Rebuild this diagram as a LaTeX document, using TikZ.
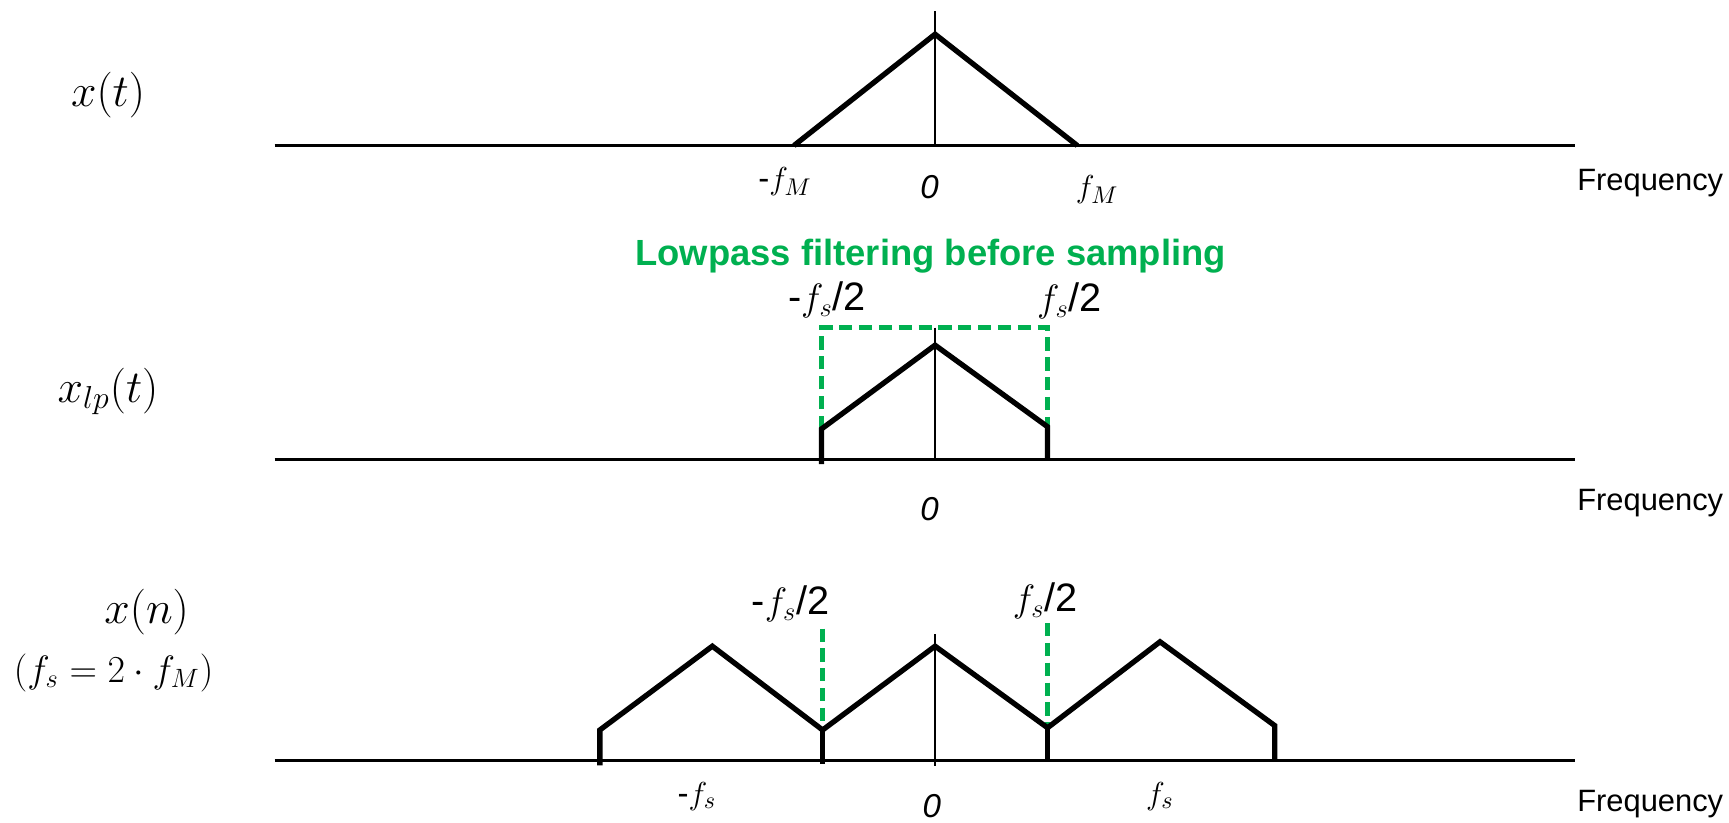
\documentclass[tikz,border=0pt]{standalone}
\usepackage{fontspec}
\setmainfont{Liberation Sans}
\definecolor{lpgreen}{RGB}{0,176,80}
\begin{document}
\begin{tikzpicture}[x=0.5pt,y=-0.5pt,
  axisline/.style={line width=1.3pt},
  zeroline/.style={line width=0.9pt},
  spec/.style={line width=2.4pt,line join=miter},
  filt/.style={lpgreen,line width=2pt,dash pattern=on 6pt off 3pt},
  freq/.style={anchor=west,font=\fontsize{14}{16}\selectfont,inner sep=0pt},
  tick/.style={font=\fontsize{15}{17}\selectfont,inner sep=0pt},
  bigtick/.style={font=\fontsize{18}{20}\selectfont,inner sep=0pt},
  sig/.style={font=\fontsize{20}{24}\selectfont,inner sep=0pt}]
\useasboundingbox (0,0) rectangle (1568,746);

% ---------- top panel ----------
\coordinate (a1l) at (249,132); \coordinate (a1r) at (1428,132);
\coordinate (z1t) at (848,10);  \coordinate (z1b) at (848,132);
\coordinate (t1l) at (720,132); \coordinate (t1p) at (848,31); \coordinate (t1r) at (977,132);
\draw[axisline] (a1l) -- (a1r);
\draw[zeroline] (z1t) -- (z1b);
\draw[spec] (t1l) -- (t1p) -- (t1r);
\node[sig] (xt) at (98,86) {$x(t)$};
\node[tick] (fm1) at (712,165) {-$f_M$};
\node[tick] (z1) at (843,170) {\textit{0}};
\node[tick] (fm2) at (995,172) {$f_M$};
\node[freq] (fr1) at (1430,166) {Frequency};

% ---------- middle panel ----------
\node[font=\fontsize{16.5}{18}\selectfont\bfseries,text=lpgreen,inner sep=0pt] (title) at (844,232) {Lowpass filtering before sampling};
\coordinate (a2l) at (249,417); \coordinate (a2r) at (1428,417);
\coordinate (z2t) at (848,297); \coordinate (z2b) at (848,417);
\coordinate (m0) at (745,421); \coordinate (m1) at (745,389); \coordinate (m2) at (848,313);
\coordinate (m3) at (950,387); \coordinate (m4) at (950,416);
\coordinate (g1) at (745,297); \coordinate (g2) at (950,297);
\draw[axisline] (a2l) -- (a2r);
\draw[zeroline] (z2t) -- (z2b);
\draw[filt] (m1) -- (g1) -- (g2) -- (m3);
\draw[spec] (m0) -- (m1) -- (m2) -- (m3) -- (m4);
\node[sig] (xlp) at (98,355) {$x_{lp}(t)$};
\node[bigtick] (fs1) at (750,272) {-$f_s$/2};
\node[bigtick] (fs2) at (970,273) {$f_s$/2};
\node[tick] (z2) at (843,462) {\textit{0}};
\node[freq] (fr2) at (1430,456) {Frequency};

% ---------- bottom panel ----------
\coordinate (a3l) at (249,690); \coordinate (a3r) at (1428,690);
\coordinate (z3t) at (848,575); \coordinate (z3b) at (848,695);
\coordinate (b0) at (544,694); \coordinate (b1) at (544,662); \coordinate (b2) at (646,586);
\coordinate (b3) at (746,662); \coordinate (b4) at (848,586); \coordinate (b5) at (950,660);
\coordinate (b6) at (1052,582); \coordinate (b7) at (1156,658); \coordinate (b8) at (1156,689);
\coordinate (s1) at (746,693); \coordinate (s2) at (950,691);
\coordinate (d1) at (746,570); \coordinate (d2) at (950,565);
\draw[axisline] (a3l) -- (a3r);
\draw[zeroline] (z3t) -- (z3b);
\draw[filt] (d1) -- (b3);
\draw[filt] (d2) -- (b5);
\draw[spec] (b0) -- (b1) -- (b2) -- (b3) -- (b4) -- (b5) -- (b6) -- (b7) -- (b8);
\draw[spec] (b3) -- (s1);
\draw[spec] (b5) -- (s2);
\node[sig] (xn) at (133,555) {$x(n)$};
\node[sig,font=\fontsize{18}{22}\selectfont] (fsdef) at (103,610) {$(f_s=2\cdot f_M)$};
\node[bigtick] (fs3) at (717,548) {-$f_s$/2};
\node[bigtick] (fs4) at (948,545) {$f_s$/2};
\node[tick] (fs5) at (632,722) {-$f_s$};
\node[tick] (z3) at (845,731) {\textit{0}};
\node[tick] (fs6) at (1052,722) {$f_s$};
\node[freq] (fr3) at (1430,729) {Frequency};
\end{tikzpicture}
\end{document}
